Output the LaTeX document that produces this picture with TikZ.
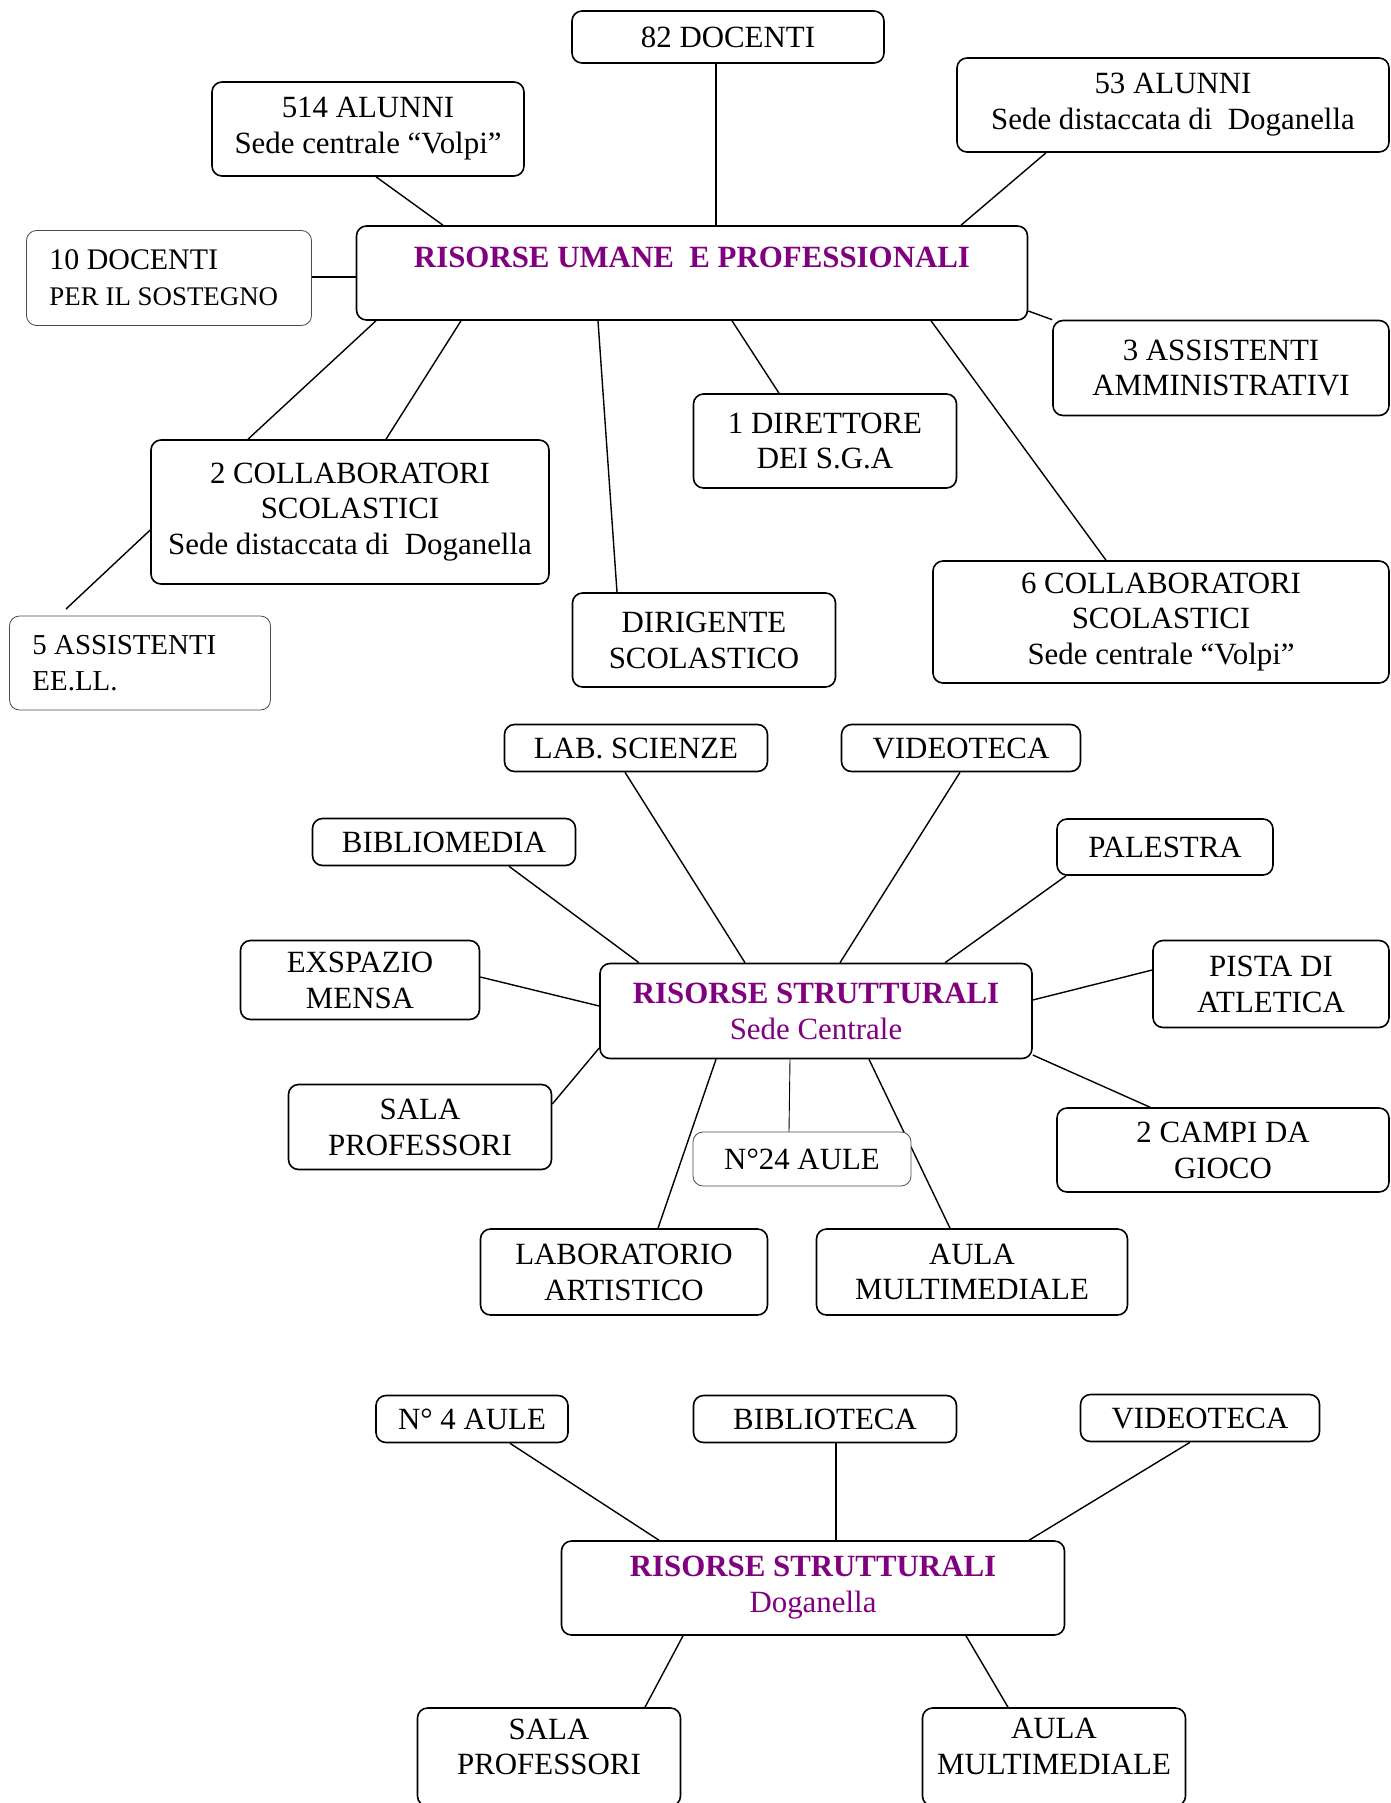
\documentclass[tikz,border=0pt]{standalone}
\usepackage{fontspec}
\setmainfont{Liberation Serif}
\definecolor{titolo}{RGB}{128,0,128}
\tikzset{
	voce/.style={draw, rounded corners=10bp, line width=1.6bp, inner sep=0pt, align=center, font=\fontsize{31}{36}\selectfont},
	sottile/.style={voce, line width=0.8bp, draw=black!70},
	centro/.style={voce, text=titolo},
	taglia/.style n args={2}{minimum width=#1bp, minimum height=#2bp},
	legame/.style={line width=1.4bp}
}
\begin{document}
\begin{tikzpicture}[x=1bp, y=-1bp]
	\useasboundingbox (0,0) rectangle (1391,1803);
	\node[voce, taglia={312}{52}] (docenti) at (728,37) {82 DOCENTI};
	\node[voce, taglia={312}{94}] (alunniV) at (368,129) {514 ALUNNI\\Sede centrale “Volpi”};
	\node[voce, taglia={432}{94}] (alunniD) at (1173,105) {53 ALUNNI\\Sede distaccata di\ \ Doganella};
	\node[sottile, align=flush left, text width=239bp, inner xsep=23bp, minimum height=95bp] (sostegno) at (169,278) {\fontsize{30}{32}\selectfont 10 DOCENTI\\\fontsize{27}{32}\selectfont PER IL SOSTEGNO};
	\node[centro, taglia={671}{94}] (umane) at (692,273) {\textbf{RISORSE UMANE\ \ E PROFESSIONALI}\\[-16bp]\strut};
	\node[voce, taglia={336}{95}] (amministrativi) at (1221,368) {3 ASSISTENTI\\AMMINISTRATIVI};
	\node[voce, taglia={263}{94}] (direttore) at (825,441) {1 DIRETTORE\\DEI S.G.A};
	\node[voce, taglia={398}{144}] (collD) at (350,512) {2 COLLABORATORI\\SCOLASTICI\\Sede distaccata di\ \ Doganella};
	\node[sottile, align=flush left, text width=215bp, inner xsep=23bp, minimum height=94bp] (eell) at (140,663) {\fontsize{29}{33}\selectfont 5 ASSISTENTI\\EE.LL.};
	\node[voce, taglia={263}{94}] (dirigente) at (704,640) {DIRIGENTE\\SCOLASTICO};
	\node[voce, taglia={456}{122}] (collV) at (1161,622) {6 COLLABORATORI\\SCOLASTICI\\Sede centrale “Volpi”};
	\coordinate (eellpunta) at (66,609);
	\draw[legame] (docenti.south -| 716,0) -- (umane.north -| 716,0);
	\draw[legame] (alunniV.south -| 376,0) -- (umane.north -| 443,0);
	\draw[legame] (alunniD.south -| 1046,0) -- (umane.north -| 961,0);
	\draw[legame] (sostegno.east |- 0,277) -- (umane.west |- 0,277);
	\draw[legame] (umane.east |- 0,311) -- (amministrativi.north west);
	\draw[legame] (umane.south -| 732,0) -- (direttore.north -| 779,0);
	\draw[legame] (umane.south -| 931,0) -- (collV.north -| 1106,0);
	\draw[legame] (umane.south -| 598,0) -- (dirigente.north -| 617,0);
	\draw[legame] (umane.south -| 461,0) -- (collD.north -| 386,0);
	\draw[legame] (umane.south -| 376,0) -- (collD.north -| 248,0);
	\draw[legame] (collD.west |- 0,530) -- (eellpunta);
	\node[voce, taglia={263}{47}] (scienze) at (636,748) {LAB. SCIENZE};
	\node[voce, taglia={239}{47}] (videotecaC) at (961,748) {VIDEOTECA};
	\node[voce, taglia={263}{47}] (bibliomedia) at (444,842) {BIBLIOMEDIA};
	\node[voce, taglia={216}{56}] (palestra) at (1165,847) {PALESTRA};
	\node[voce, taglia={239}{79}] (mensa) at (360,980) {EXSPAZIO\\MENSA};
	\node[centro, taglia={432}{95}] (strutC) at (816,1011) {\textbf{RISORSE STRUTTURALI}\\Sede Centrale};
	\node[voce, taglia={236}{87}] (pista) at (1271,984) {PISTA DI\\ATLETICA};
	\node[voce, taglia={263}{85}] (salaC) at (420,1127) {SALA\\PROFESSORI};
	\node[voce, taglia={332}{84}] (campi) at (1223,1150) {2 CAMPI DA\\GIOCO};
	\node[voce, taglia={287}{86}] (artistico) at (624,1272) {LABORATORIO\\ARTISTICO};
	\node[voce, taglia={311}{86}] (multimedialeC) at (972,1272) {AULA\\MULTIMEDIALE};
	\draw[legame] (scienze.south -| 625,0) -- (strutC.north -| 745,0);
	\draw[legame] (videotecaC.south -| 960,0) -- (strutC.north -| 840,0);
	\draw[legame] (bibliomedia.south -| 509,0) -- (strutC.north -| 639,0);
	\draw[legame] (palestra.south -| 1066,0) -- (strutC.north -| 945,0);
	\draw[legame] (mensa.east |- 0,977) -- (strutC.west |- 0,1006);
	\draw[legame] (pista.west |- 0,970) -- (strutC.east |- 0,1000);
	\draw[legame] (salaC.east |- 0,1104) -- (strutC.west |- 0,1048);
	\draw[legame] (strutC.east |- 0,1055) -- (campi.north -| 1150,0);
	\draw[legame] (strutC.south -| 716,0) -- (artistico.north -| 658,0);
	\draw[legame] (strutC.south -| 869,0) -- (multimedialeC.north -| 950,0);
	\node[sottile, fill=white, taglia={218}{54}] (aule24) at (802,1159) {N°24 AULE};
	\draw[legame, line width=0.9bp] (strutC.south -| 790,0) -- (aule24.north -| 789,0);
	\node[voce, taglia={192}{47}] (aule4) at (472,1419) {N° 4 AULE};
	\node[voce, taglia={263}{47}] (biblioteca) at (825,1419) {BIBLIOTECA};
	\node[voce, taglia={239}{47}] (videotecaD) at (1200,1418) {VIDEOTECA};
	\node[centro, taglia={503}{94}] (strutD) at (813,1588) {\textbf{RISORSE STRUTTURALI}\\Doganella};
	\node[voce, taglia={263}{98}] (salaD) at (549,1757) {SALA\\PROFESSORI\\[-26bp]\strut};
	\node[voce, taglia={263}{98}] (multimedialeD) at (1054,1757) {AULA\\MULTIMEDIALE\\[-26bp]\strut};
	\draw[legame] (aule4.south -| 510,0) -- (strutD.north -| 659,0);
	\draw[legame] (biblioteca.south -| 836,0) -- (strutD.north -| 836,0);
	\draw[legame] (videotecaD.south -| 1190,0) -- (strutD.north -| 1029,0);
	\draw[legame] (strutD.south -| 683,0) -- (salaD.north -| 645,0);
	\draw[legame] (strutD.south -| 966,0) -- (multimedialeD.north -| 1008,0);
\end{tikzpicture}
\end{document}
